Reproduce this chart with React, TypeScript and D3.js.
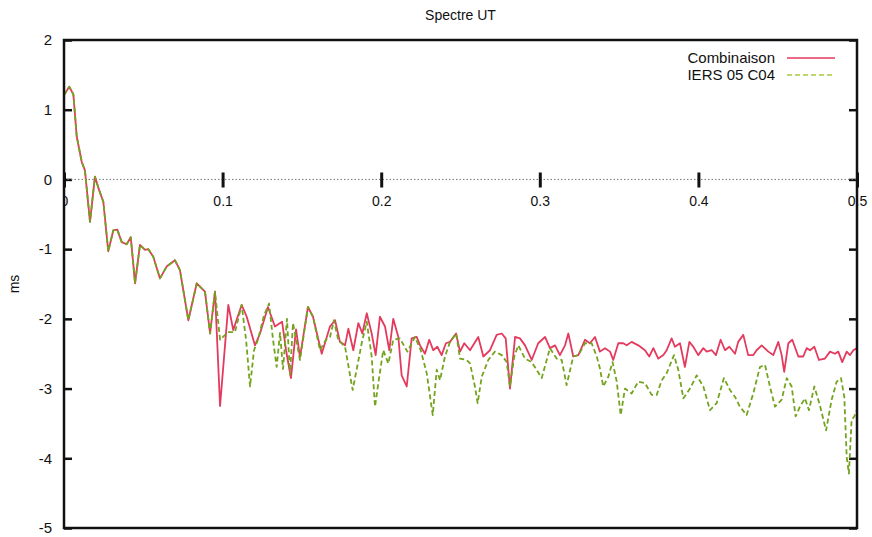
import { useRef, useEffect } from "react";
import * as d3 from "d3";

// debut commun aux deux series (basses frequences)
const sharedFreq = [
  0, 0.0033, 0.0059, 0.008, 0.0112, 0.0132, 0.0164, 0.0195, 0.0221, 0.0248,
  0.0279, 0.0311, 0.0336, 0.0364, 0.0395, 0.0421, 0.0448, 0.0479, 0.0511,
  0.0532, 0.0563, 0.0605, 0.0647, 0.07, 0.0731, 0.0784, 0.0837, 0.0889,
  0.0921, 0.0952,
];
const sharedVal = [
  1.21, 1.33, 1.22, 0.62, 0.25, 0.13, -0.61, 0.04, -0.15, -0.32, -1.03, -0.73,
  -0.72, -0.9, -0.93, -0.83, -1.49, -0.94, -1.01, -1.0, -1.11, -1.42, -1.25,
  -1.16, -1.3, -2.02, -1.49, -1.61, -2.21, -1.61,
];

// Combinaison
const combFreq = [
  0.0984, 0.1036, 0.1067, 0.112, 0.1152, 0.1204, 0.1236, 0.1286, 0.133,
  0.1375, 0.14, 0.1431, 0.1463, 0.1488, 0.1538, 0.157, 0.1625, 0.1677, 0.1709,
  0.174, 0.1772, 0.1793, 0.1824, 0.1856, 0.1881, 0.1909, 0.194, 0.1965,
  0.1992, 0.2024, 0.2051, 0.2076, 0.2108, 0.2129, 0.2161, 0.2192, 0.2224,
  0.2245, 0.2276, 0.2303, 0.2328, 0.2354, 0.2381, 0.2408, 0.2434, 0.2472,
  0.2497, 0.2524, 0.256, 0.2612, 0.2644, 0.2686, 0.2728, 0.276, 0.2785,
  0.2812, 0.2844, 0.2875, 0.2907, 0.2949, 0.299, 0.3033, 0.3064, 0.3096,
  0.3127, 0.3159, 0.318, 0.3211, 0.3243, 0.3285, 0.3316, 0.3348, 0.3379,
  0.3411, 0.3443, 0.3463, 0.3495, 0.3526, 0.3548, 0.3579, 0.3621, 0.3663,
  0.369, 0.3716, 0.3747, 0.3779, 0.38, 0.3831, 0.3852, 0.3884, 0.3915, 0.3943,
  0.3968, 0.3999, 0.4031, 0.4052, 0.4084, 0.4111, 0.414, 0.4168, 0.4195,
  0.4231, 0.4251, 0.4283, 0.4314, 0.4346, 0.4367, 0.4399, 0.4441, 0.4472,
  0.4504, 0.4525, 0.4541, 0.4567, 0.4592, 0.463, 0.4661, 0.4683, 0.4704,
  0.4731, 0.476, 0.4798, 0.483, 0.4861, 0.4882, 0.4907, 0.4935, 0.4956,
  0.4977, 0.5,
];
const combVal = [
  -3.25, -1.8, -2.16, -1.8, -1.97, -2.38, -2.21, -1.83, -2.11, -2.04, -2.45,
  -2.85, -2.15, -2.55, -1.83, -1.97, -2.5, -2.11, -2.02, -2.33, -2.38, -2.14,
  -2.45, -2.06, -2.21, -1.92, -2.21, -2.52, -1.97, -2.11, -2.45, -2.0, -2.26,
  -2.81, -2.97, -2.28, -2.26, -2.38, -2.5, -2.3, -2.45, -2.4, -2.52, -2.35,
  -2.33, -2.21, -2.47, -2.35, -2.45, -2.26, -2.54, -2.45, -2.23, -2.21, -2.28,
  -3.0, -2.26, -2.28, -2.38, -2.59, -2.35, -2.26, -2.42, -2.38, -2.52, -2.38,
  -2.21, -2.54, -2.52, -2.3, -2.35, -2.26, -2.47, -2.42, -2.47, -2.59, -2.35,
  -2.35, -2.38, -2.33, -2.38, -2.45, -2.54, -2.42, -2.57, -2.52, -2.45, -2.28,
  -2.4, -2.35, -2.69, -2.33, -2.4, -2.52, -2.42, -2.47, -2.45, -2.52, -2.3,
  -2.45, -2.4, -2.5, -2.33, -2.23, -2.52, -2.52, -2.45, -2.38, -2.47, -2.52,
  -2.33, -2.52, -2.76, -2.35, -2.3, -2.54, -2.54, -2.42, -2.45, -2.4, -2.59,
  -2.57, -2.47, -2.5, -2.47, -2.62, -2.47, -2.52, -2.45, -2.42,
];

// IERS 05 C04
const c04Freq = [
  0.0984, 0.1034, 0.1078, 0.112, 0.1148, 0.1173, 0.1198, 0.1223, 0.1261,
  0.1293, 0.1318, 0.1341, 0.1362, 0.1381, 0.1406, 0.1425, 0.1444, 0.1488,
  0.1538, 0.157, 0.1614, 0.1652, 0.1677, 0.1702, 0.1729, 0.1772, 0.182,
  0.1845, 0.1877, 0.1909, 0.194, 0.1961, 0.1982, 0.2013, 0.2045, 0.2076,
  0.2118, 0.2165, 0.2213, 0.2249, 0.2287, 0.2325, 0.235, 0.2371, 0.2402,
  0.2434, 0.2472, 0.2497, 0.2539, 0.256, 0.2591, 0.2608, 0.2634, 0.2675,
  0.2717, 0.276, 0.2791, 0.2812, 0.2839, 0.2864, 0.2907, 0.2949, 0.3012,
  0.3064, 0.3106, 0.3138, 0.3169, 0.3211, 0.3243, 0.3285, 0.3327, 0.3359,
  0.3379, 0.34, 0.3432, 0.3459, 0.3485, 0.351, 0.3537, 0.3579, 0.3621, 0.3663,
  0.3705, 0.3737, 0.3769, 0.38, 0.3846, 0.3873, 0.3905, 0.3947, 0.3989,
  0.4031, 0.4073, 0.4115, 0.4161, 0.4199, 0.4231, 0.4262, 0.4304, 0.4346,
  0.4388, 0.442, 0.4451, 0.4483, 0.4525, 0.4557, 0.4588, 0.4613, 0.464,
  0.4672, 0.4697, 0.4731, 0.4766, 0.4805, 0.484, 0.4872, 0.4899, 0.492,
  0.4935, 0.4949, 0.4966, 0.4983, 0.5,
];
const c04Val = [
  -2.3, -2.19, -2.19, -1.8, -2.3, -2.97, -2.45, -2.3, -1.95, -1.78, -2.3,
  -2.69, -2.2, -2.72, -2.0, -2.8, -2.06, -2.59, -1.83, -1.97, -2.45, -2.3,
  -2.26, -2.02, -2.3, -2.4, -3.02, -2.73, -2.35, -2.04, -2.54, -3.26, -2.92,
  -2.45, -2.64, -2.3, -2.28, -2.47, -2.26, -2.45, -2.78, -3.38, -2.73, -2.88,
  -2.54, -2.33, -2.21, -2.57, -2.59, -2.64, -2.97, -3.21, -2.83, -2.59, -2.47,
  -2.52, -2.62, -2.97, -2.54, -2.38, -2.57, -2.62, -2.85, -2.42, -2.57, -2.59,
  -2.95, -2.54, -2.52, -2.35, -2.35, -2.54, -2.71, -2.97, -2.83, -2.62, -2.9,
  -3.38, -3.0, -3.07, -2.9, -2.92, -3.09, -3.09, -2.88, -2.78, -2.52, -2.73,
  -3.14, -3.0, -2.81, -2.97, -3.31, -3.21, -2.85, -3.02, -3.12, -3.26, -3.38,
  -3.07, -2.69, -2.66, -2.97, -3.26, -3.16, -2.85, -2.97, -3.4, -3.26, -3.14,
  -3.31, -2.97, -3.24, -3.6, -3.16, -2.9, -2.85, -3.12, -3.98, -4.22, -3.45,
  -3.4, -3.3,
];

const xTicks = [0, 0.1, 0.2, 0.3, 0.4, 0.5];
const yTicks = [-5, -4, -3, -2, -1, 0, 1, 2];
const seriesNames = ["Combinaison", "IERS 05 C04"];

const RED = "#e33a5e";
const GREEN = "#74a31f";
const FONT = "'Liberation Sans', Arial, sans-serif";

const toPoints = (f, v) => f.map((d, i) => ({ f: d, v: v[i] }));

const SpectreUT = ({ width = 872, height = 537 }) => {
  const svgRef = useRef();

  useEffect(() => {
    const svg = d3.select(svgRef.current);
    svg.selectAll("*").remove();

    const margin = { top: 40, right: 15, bottom: 9, left: 64 };

    const x = d3
      .scaleLinear()
      .domain([0, 0.5])
      .range([margin.left, width - margin.right]);
    const y = d3
      .scaleLinear()
      .domain([-5, 2])
      .range([height - margin.bottom, margin.top]);

    const defs = svg.append("defs");
    defs
      .append("clipPath")
      .attr("id", "plotClip")
      .append("rect")
      .attr("x", x(0))
      .attr("y", y(2))
      .attr("width", x(0.5) - x(0))
      .attr("height", y(-5) - y(2));
    // le "0" de l'axe x est mange par le cadre a gauche
    defs
      .append("clipPath")
      .attr("id", "xLabelClip")
      .append("rect")
      .attr("x", x(0) + 0.5)
      .attr("y", -30)
      .attr("width", width)
      .attr("height", 80);

    // titre
    svg
      .append("text")
      .attr("x", (x(0) + x(0.5)) / 2)
      .attr("y", 20)
      .attr("text-anchor", "middle")
      .attr("font-family", FONT)
      .attr("font-size", 14)
      .attr("fill", "#111")
      .text("Spectre UT");

    // axe des ordonnees
    svg
      .append("text")
      .attr("transform", `translate(19,${(y(2) + y(-5)) / 2}) rotate(-90)`)
      .attr("text-anchor", "middle")
      .attr("font-family", FONT)
      .attr("font-size", 14)
      .attr("fill", "#111")
      .text("ms");

    const yAxisL = svg
      .append("g")
      .attr("transform", `translate(${x(0)},0)`)
      .call(
        d3
          .axisLeft(y)
          .tickValues(yTicks)
          .tickSize(-8)
          .tickPadding(12)
          .tickFormat((d) => String(d))
      );
    const yAxisR = svg
      .append("g")
      .attr("transform", `translate(${x(0.5)},0)`)
      .call(d3.axisRight(y).tickValues(yTicks).tickSize(-8).tickFormat(() => ""));
    [yAxisL, yAxisR].forEach((g) => {
      g.select(".domain").remove();
      g.selectAll(".tick line").attr("stroke", "#111").attr("stroke-width", 2.5);
    });
    yAxisL
      .selectAll(".tick text")
      .attr("font-family", FONT)
      .attr("font-size", 15)
      .attr("fill", "#111");

    // axe zero pointille avec graduations
    svg
      .append("line")
      .attr("x1", x(0))
      .attr("x2", x(0.5))
      .attr("y1", y(0))
      .attr("y2", y(0))
      .attr("stroke", "#777")
      .attr("stroke-width", 1)
      .attr("stroke-dasharray", "1.5,2");

    const xAxis = svg
      .append("g")
      .attr("transform", `translate(0,${y(0) - 7})`)
      .attr("clip-path", "url(#xLabelClip)")
      .call(
        d3
          .axisBottom(x)
          .tickValues(xTicks)
          .tickSize(15)
          .tickPadding(9)
          .tickFormat((d) => String(d))
      );
    xAxis.select(".domain").remove();
    xAxis.selectAll(".tick line").attr("stroke", "#111").attr("stroke-width", 3);
    xAxis
      .selectAll(".tick text")
      .attr("font-family", FONT)
      .attr("font-size", 14)
      .attr("fill", "#111");

    // courbes
    const line = d3
      .line()
      .x((d) => x(d.f))
      .y((d) => y(d.v));

    const shared = toPoints(sharedFreq, sharedVal);
    const comb = shared.concat(toPoints(combFreq, combVal));
    const c04 = shared.concat(toPoints(c04Freq, c04Val));

    const plot = svg.append("g").attr("clip-path", "url(#plotClip)");
    plot
      .append("path")
      .datum(comb)
      .attr("d", line)
      .attr("fill", "none")
      .attr("stroke", RED)
      .attr("stroke-width", 1.8)
      .attr("stroke-linejoin", "round");
    plot
      .append("path")
      .datum(c04)
      .attr("d", line)
      .attr("fill", "none")
      .attr("stroke", GREEN)
      .attr("stroke-width", 1.8)
      .attr("stroke-dasharray", "5,3")
      .attr("stroke-linejoin", "round");

    // cadre
    svg
      .append("rect")
      .attr("x", x(0))
      .attr("y", y(2))
      .attr("width", x(0.5) - x(0))
      .attr("height", y(-5) - y(2))
      .attr("fill", "none")
      .attr("stroke", "#111")
      .attr("stroke-width", 2.5);

    // legende
    const legend = svg.append("g").attr("transform", `translate(${x(0.5)},0)`);
    seriesNames.forEach((name, i) => {
      const ly = 58 + i * 17;
      legend
        .append("text")
        .attr("x", -82)
        .attr("y", ly)
        .attr("dy", "0.35em")
        .attr("text-anchor", "end")
        .attr("font-family", FONT)
        .attr("font-size", 15)
        .attr("fill", "#111")
        .text(name);
      legend
        .append("line")
        .attr("x1", -70)
        .attr("x2", -22)
        .attr("y1", ly)
        .attr("y2", ly)
        .attr("stroke", i === 0 ? RED : "#a8cc3a")
        .attr("stroke-width", 1.5)
        .attr("stroke-dasharray", i === 0 ? null : "5,3");
    });
  }, [width, height]);

  return (
    <svg
      ref={svgRef}
      width={width}
      height={height}
      style={{ position: "absolute", left: 0, top: 0, background: "#fff" }}
    ></svg>
  );
};

export default function App() {
  return <SpectreUT />;
}
